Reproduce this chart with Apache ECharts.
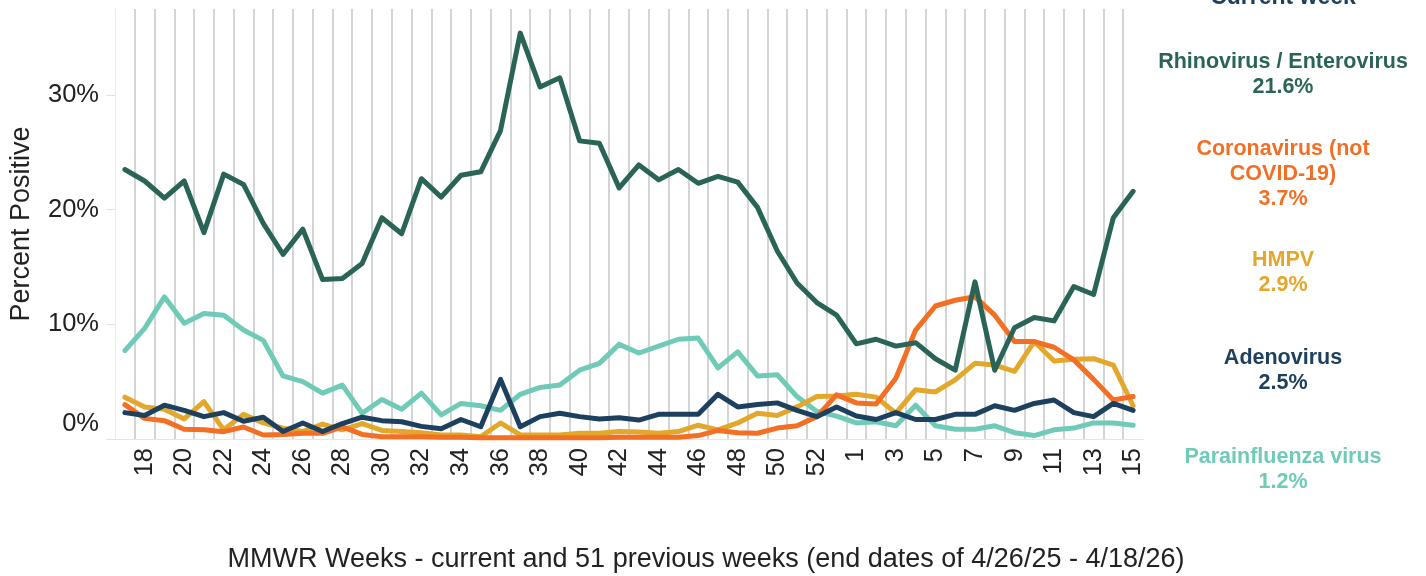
<html>

<head>
    <meta charset="utf-8" />
    <title>Percent Positive</title>
    <script src="https://cdn.jsdelivr.net/npm/echarts@6/dist/echarts.min.js"></script>
    <style>
        html, body { margin: 0; padding: 0; background: #fff; }
        #chart { width: 1426px; height: 576px; }
    </style>
</head>

<body>
<div id="chart"></div>

<script>
    // MMWR weeks 17/2025 .. 15/2026
    const weeks = ['17','18','19','20','21','22','23','24','25','26','27','28','29','30','31','32','33','34','35','36',
        '37','38','39','40','41','42','43','44','45','46','47','48','49','50','51','52','53',
        '1','2','3','4','5','6','7','8','9','10','11','12','13','14','15'];
    const yTicks = [0, 10, 20, 30];

    const rhino = [23.5, 22.5, 21.0, 22.5, 18.0, 23.1, 22.2, 18.8, 16.1, 18.3,
        13.9, 14.0, 15.3, 19.3, 17.9, 22.7, 21.1, 23.0, 23.3, 26.9,
        35.4, 30.7, 31.5, 26.0, 25.8, 21.9, 23.9, 22.6, 23.5, 22.3,
        22.9, 22.4, 20.2, 16.4, 13.6, 11.9, 10.8, 8.3, 8.7, 8.1,
        8.4, 7.0, 6.0, 13.7, 6.0, 9.7, 10.6, 10.3, 13.3, 12.6,
        19.3, 21.6];
    const corona = [3.0, 1.8, 1.6, 0.85, 0.8, 0.64, 1.05, 0.35, 0.4, 0.5,
        0.5, 1.05, 0.4, 0.2, 0.2, 0.2, 0.15, 0.15, 0.1, 0.1,
        0.1, 0.1, 0.1, 0.1, 0.1, 0.15, 0.15, 0.15, 0.15, 0.3,
        0.75, 0.55, 0.5, 0.95, 1.15, 1.95, 3.85, 3.15, 3.05, 5.3,
        9.5, 11.6, 12.1, 12.4, 10.8, 8.5, 8.5, 8.0, 6.9, 5.2,
        3.4, 3.7];
    const hmpv = [3.65, 2.8, 2.6, 1.75, 3.25, 0.8, 2.15, 1.4, 0.95, 0.65,
        1.3, 0.8, 1.35, 0.75, 0.65, 0.55, 0.35, 0.35, 0.2, 1.4,
        0.35, 0.35, 0.35, 0.5, 0.5, 0.65, 0.6, 0.5, 0.65, 1.2,
        0.8, 1.4, 2.25, 2.05, 2.8, 3.7, 3.75, 3.9, 3.65, 2.25,
        4.3, 4.1, 5.15, 6.6, 6.45, 5.9, 8.5, 6.8, 6.95, 7.0,
        6.45, 2.9];
    const adeno = [2.3, 2.05, 2.95, 2.5, 1.95, 2.3, 1.55, 1.9, 0.65, 1.4,
        0.65, 1.35, 1.9, 1.6, 1.5, 1.1, 0.9, 1.7, 1.07, 5.2,
        1.07, 1.95, 2.25, 1.95, 1.75, 1.85, 1.65, 2.15, 2.15, 2.15,
        3.9, 2.8, 3.0, 3.15, 2.5, 1.95, 2.8, 2.0, 1.7, 2.3,
        1.7, 1.7, 2.15, 2.15, 2.9, 2.5, 3.1, 3.4, 2.3, 1.95,
        3.1, 2.5];
    const para = [7.7, 9.65, 12.4, 10.1, 10.95, 10.8, 9.5, 8.6, 5.5, 5.0,
        4.0, 4.7, 2.25, 3.45, 2.6, 4.0, 2.1, 3.1, 2.9, 2.5,
        3.9, 4.5, 4.7, 6.0, 6.6, 8.25, 7.5, 8.1, 8.7, 8.8,
        6.2, 7.6, 5.5, 5.6, 3.7, 2.4, 2.0, 1.4, 1.5, 1.15,
        2.95, 1.15, 0.85, 0.85, 1.15, 0.55, 0.3, 0.8, 0.95, 1.4,
        1.4, 1.2];

    const names = ['Parainfluenza virus', 'HMPV', 'Coronavirus (not COVID-19)', 'Adenovirus', 'Rhinovirus / Enterovirus'];
    const colors = ['#6fcab7', '#e3a82b', '#f26f24', '#1d405f', '#2a6457'];
    const values = [para, hmpv, corona, adeno, rhino];

    const font = '"Liberation Sans", Arial, sans-serif';

    let chart = echarts.init(document.getElementById('chart'));

    // right hand "current week" notes
    function note(text, y, color) {
        return {
            type: 'text',
            x: 1283,
            y: y,
            style: {
                text: text,
                fill: color,
                font: 'bold 21.5px ' + font,
                lineHeight: 25,
                align: 'center',
                verticalAlign: 'middle'
            }
        };
    }

    chart.setOption({
        animation: false,
        textStyle: { fontFamily: font },
        grid: { left: 114, right: 283, top: 9, bottom: 137 },
        xAxis: {
            type: 'category',
            data: weeks,
            boundaryGap: true,
            axisLine: { lineStyle: { color: '#e6e6e6', width: 1 } },
            axisTick: { show: false, interval: 0 },
            axisLabel: {
                interval: function (index) { return index % 2 === 1; },
                rotate: 90,
                fontSize: 25.5,
                color: '#222',
                margin: 9
            },
            splitLine: {
                show: true,
                interval: 0,
                showMinLine: false,
                showMaxLine: false,
                lineStyle: { color: '#c6c6c6', width: 1.5 }
            }
        },
        yAxis: {
            type: 'value',
            min: 0,
            max: 37.5,
            interval: 10,
            name: 'Percent Positive',
            nameLocation: 'middle',
            nameGap: 80,
            nameTextStyle: { fontSize: 27, color: '#222' },
            axisLine: { show: true, lineStyle: { color: '#ececec' } },
            axisTick: { show: true, length: 9, lineStyle: { color: '#e2e2e2' } },
            splitLine: { show: false },
            axisLabel: {
                fontSize: 25.5,
                color: '#222',
                margin: 16,
                showMaxLabel: false,
                formatter: function (v) {
                    if (yTicks.indexOf(v) < 0) return '';
                    return v === 0 ? '{lift|0%}' : v + '%';
                },
                rich: {
                    lift: { fontSize: 25.5, color: '#222', padding: [0, 0, 30, 0] }
                }
            }
        },
        series: values.map(function (d, k) {
            return {
                name: names[k],
                type: 'line',
                data: d,
                showSymbol: false,
                symbol: 'none',
                lineStyle: { width: 5, color: colors[k], cap: 'round', join: 'round' },
                itemStyle: { color: colors[k] }
            };
        }),
        graphic: [
            {
                type: 'text',
                x: 706,
                y: 560,
                style: {
                    text: 'MMWR Weeks - current and 51 previous weeks (end dates of 4/26/25 - 4/18/26)',
                    fill: '#222',
                    font: '27px ' + font,
                    align: 'center',
                    verticalAlign: 'middle'
                }
            },
            {
                type: 'text',
                x: 1283,
                y: -2,
                style: {
                    text: 'Current week',
                    fill: '#1d405f',
                    font: 'bold 23px ' + font,
                    align: 'center',
                    verticalAlign: 'middle'
                }
            },
            note('Rhinovirus / Enterovirus\n21.6%', 75, '#2a6457'),
            note('Coronavirus (not\nCOVID-19)\n3.7%', 174, '#f26f24'),
            note('HMPV\n2.9%', 273, '#e3a82b'),
            note('Adenovirus\n2.5%', 371, '#1d405f'),
            note('Parainfluenza virus\n1.2%', 470, '#6fcab7')
        ]
    });
</script>
</body>

</html>
